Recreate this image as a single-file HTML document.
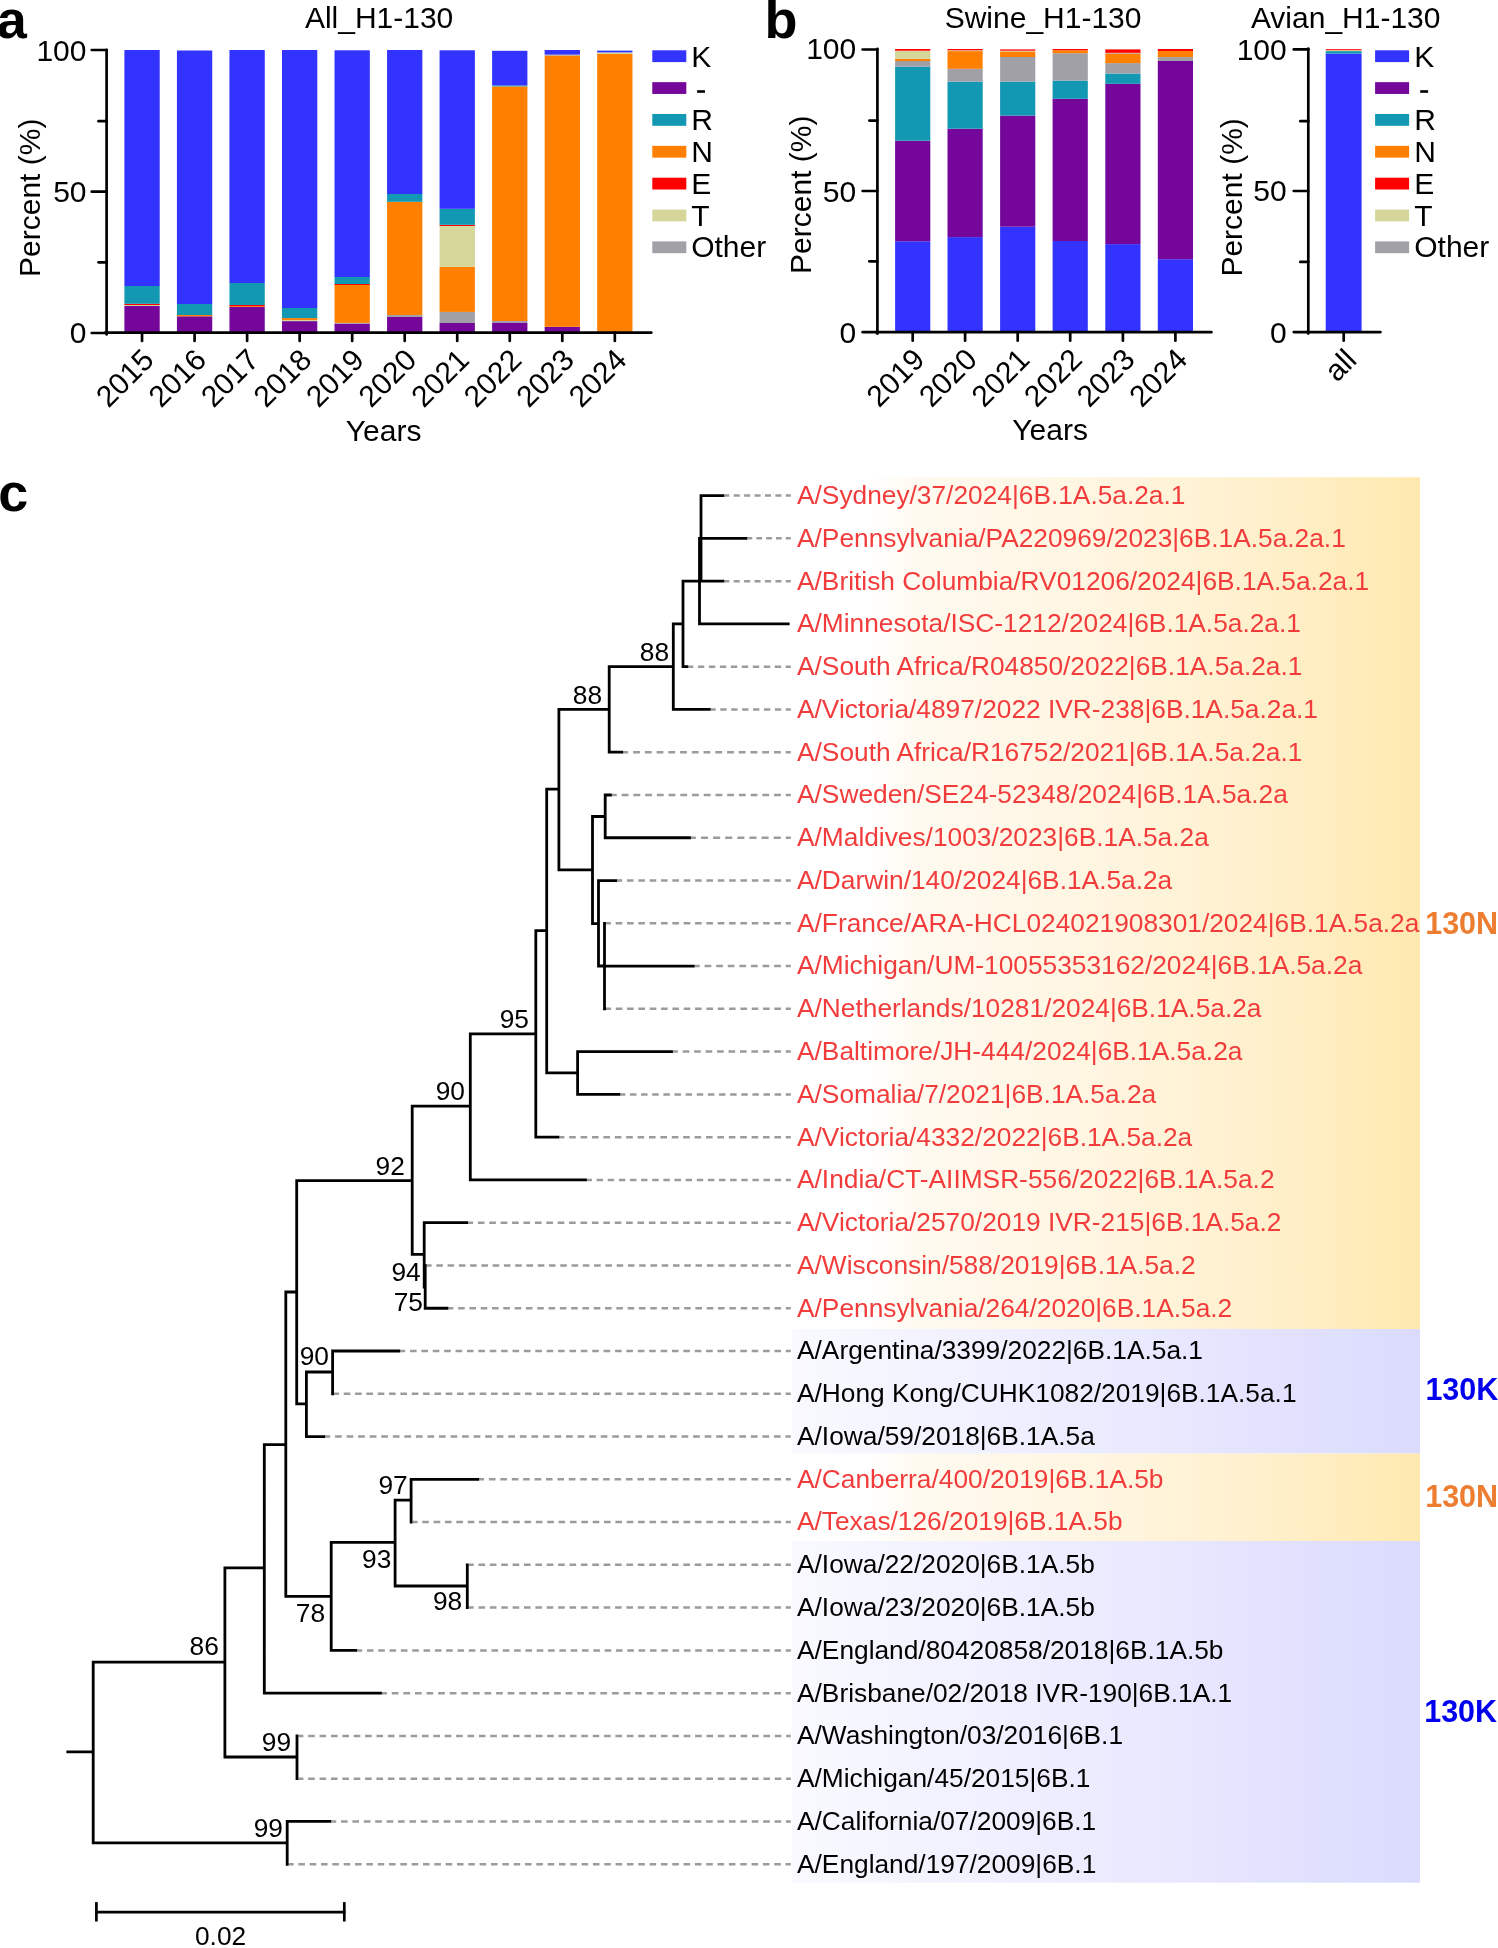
<!DOCTYPE html>
<html><head><meta charset="utf-8"><title>Figure</title>
<style>html,body{margin:0;padding:0;background:#fff;}body{width:1498px;height:1948px;overflow:hidden;font-family:"Liberation Sans", sans-serif;}svg{display:block;will-change:transform;}</style>
</head><body>
<svg width="1498" height="1948" viewBox="0 0 1498 1948" font-family='"Liberation Sans", sans-serif'><text x="-3.25" y="38.15" font-size="54" font-weight="bold" fill="#000">a</text>
<text x="304.9" y="28.2" font-size="30" fill="#000">All_H1-130</text>
<rect x="124.4" y="306" width="35.3" height="26.3" fill="#740799"/>
<rect x="124.4" y="305" width="35.3" height="1" fill="#D6D69A"/>
<rect x="124.4" y="303.8" width="35.3" height="1.2" fill="#FF0000"/>
<rect x="124.4" y="286" width="35.3" height="17.8" fill="#1298B2"/>
<rect x="124.4" y="50" width="35.3" height="236" fill="#3333FF"/>
<rect x="176.93" y="316.3" width="35.3" height="16" fill="#740799"/>
<rect x="176.93" y="315" width="35.3" height="1.3" fill="#FF7F00"/>
<rect x="176.93" y="304" width="35.3" height="11" fill="#1298B2"/>
<rect x="176.93" y="50.5" width="35.3" height="253.5" fill="#3333FF"/>
<rect x="229.46" y="307" width="35.3" height="25.3" fill="#740799"/>
<rect x="229.46" y="306.2" width="35.3" height="0.8" fill="#FF7F00"/>
<rect x="229.46" y="305" width="35.3" height="1.2" fill="#FF0000"/>
<rect x="229.46" y="283" width="35.3" height="22" fill="#1298B2"/>
<rect x="229.46" y="50" width="35.3" height="233" fill="#3333FF"/>
<rect x="281.99" y="321.1" width="35.3" height="11.2" fill="#740799"/>
<rect x="281.99" y="320" width="35.3" height="1.1" fill="#D6D69A"/>
<rect x="281.99" y="318.1" width="35.3" height="1.9" fill="#FF7F00"/>
<rect x="281.99" y="308" width="35.3" height="10.1" fill="#1298B2"/>
<rect x="281.99" y="50" width="35.3" height="258" fill="#3333FF"/>
<rect x="334.52" y="323.6" width="35.3" height="8.7" fill="#740799"/>
<rect x="334.52" y="322.9" width="35.3" height="0.7" fill="#A0A0A6"/>
<rect x="334.52" y="285" width="35.3" height="37.9" fill="#FF7F00"/>
<rect x="334.52" y="284" width="35.3" height="1" fill="#FF0000"/>
<rect x="334.52" y="277" width="35.3" height="7" fill="#1298B2"/>
<rect x="334.52" y="50.3" width="35.3" height="226.7" fill="#3333FF"/>
<rect x="387.05" y="317" width="35.3" height="15.3" fill="#740799"/>
<rect x="387.05" y="315" width="35.3" height="2" fill="#A0A0A6"/>
<rect x="387.05" y="201.8" width="35.3" height="113.2" fill="#FF7F00"/>
<rect x="387.05" y="194" width="35.3" height="7.8" fill="#1298B2"/>
<rect x="387.05" y="50" width="35.3" height="144" fill="#3333FF"/>
<rect x="439.58" y="323" width="35.3" height="9.3" fill="#740799"/>
<rect x="439.58" y="311.9" width="35.3" height="11.1" fill="#A0A0A6"/>
<rect x="439.58" y="266.9" width="35.3" height="45" fill="#FF7F00"/>
<rect x="439.58" y="226" width="35.3" height="40.9" fill="#D6D69A"/>
<rect x="439.58" y="224.8" width="35.3" height="1.2" fill="#FF0000"/>
<rect x="439.58" y="208.8" width="35.3" height="16" fill="#1298B2"/>
<rect x="439.58" y="50.3" width="35.3" height="158.5" fill="#3333FF"/>
<rect x="492.11" y="322.5" width="35.3" height="9.8" fill="#740799"/>
<rect x="492.11" y="321" width="35.3" height="1.5" fill="#A0A0A6"/>
<rect x="492.11" y="86.4" width="35.3" height="234.6" fill="#FF7F00"/>
<rect x="492.11" y="85.4" width="35.3" height="1" fill="#1298B2"/>
<rect x="492.11" y="50.8" width="35.3" height="34.6" fill="#3333FF"/>
<rect x="544.64" y="326.8" width="35.3" height="5.5" fill="#740799"/>
<rect x="544.64" y="55.5" width="35.3" height="271.3" fill="#FF7F00"/>
<rect x="544.64" y="54.6" width="35.3" height="0.9" fill="#A0A0A6"/>
<rect x="544.64" y="50" width="35.3" height="4.6" fill="#3333FF"/>
<rect x="597.17" y="54" width="35.3" height="278.3" fill="#FF7F00"/>
<rect x="597.17" y="52.4" width="35.3" height="1.6" fill="#D6D69A"/>
<rect x="597.17" y="50.6" width="35.3" height="1.8" fill="#3333FF"/>
<line x1="106.6" y1="49.85" x2="106.6" y2="334.5" stroke="#000" stroke-width="2.7" stroke-linecap="round"/>
<line x1="91.75" y1="50" x2="106.6" y2="50" stroke="#000" stroke-width="2.7" stroke-linecap="round"/>
<line x1="98.55" y1="121.2" x2="106.6" y2="121.2" stroke="#000" stroke-width="2.7" stroke-linecap="round"/>
<line x1="91.75" y1="191.7" x2="106.6" y2="191.7" stroke="#000" stroke-width="2.7" stroke-linecap="round"/>
<line x1="98.55" y1="262.3" x2="106.6" y2="262.3" stroke="#000" stroke-width="2.7" stroke-linecap="round"/>
<line x1="91.75" y1="333" x2="106.6" y2="333" stroke="#000" stroke-width="2.7" stroke-linecap="round"/>
<text x="86.5" y="61.1" font-size="30" text-anchor="end" fill="#000">100</text>
<text x="86.5" y="202.1" font-size="30" text-anchor="end" fill="#000">50</text>
<text x="86.5" y="343.4" font-size="30" text-anchor="end" fill="#000">0</text>
<line x1="105.25" y1="332.6" x2="651.35" y2="332.6" stroke="#000" stroke-width="2.7" stroke-linecap="round"/>
<line x1="142.05" y1="332.6" x2="142.05" y2="340.95" stroke="#000" stroke-width="2.7" stroke-linecap="round"/>
<text transform="translate(155.65,361.6) rotate(-45)" font-size="30" text-anchor="end">2015</text>
<line x1="194.58" y1="332.6" x2="194.58" y2="340.95" stroke="#000" stroke-width="2.7" stroke-linecap="round"/>
<text transform="translate(208.18,361.6) rotate(-45)" font-size="30" text-anchor="end">2016</text>
<line x1="247.11" y1="332.6" x2="247.11" y2="340.95" stroke="#000" stroke-width="2.7" stroke-linecap="round"/>
<text transform="translate(260.71,361.6) rotate(-45)" font-size="30" text-anchor="end">2017</text>
<line x1="299.64" y1="332.6" x2="299.64" y2="340.95" stroke="#000" stroke-width="2.7" stroke-linecap="round"/>
<text transform="translate(313.24,361.6) rotate(-45)" font-size="30" text-anchor="end">2018</text>
<line x1="352.17" y1="332.6" x2="352.17" y2="340.95" stroke="#000" stroke-width="2.7" stroke-linecap="round"/>
<text transform="translate(365.77,361.6) rotate(-45)" font-size="30" text-anchor="end">2019</text>
<line x1="404.7" y1="332.6" x2="404.7" y2="340.95" stroke="#000" stroke-width="2.7" stroke-linecap="round"/>
<text transform="translate(418.3,361.6) rotate(-45)" font-size="30" text-anchor="end">2020</text>
<line x1="457.23" y1="332.6" x2="457.23" y2="340.95" stroke="#000" stroke-width="2.7" stroke-linecap="round"/>
<text transform="translate(470.83,361.6) rotate(-45)" font-size="30" text-anchor="end">2021</text>
<line x1="509.76" y1="332.6" x2="509.76" y2="340.95" stroke="#000" stroke-width="2.7" stroke-linecap="round"/>
<text transform="translate(523.36,361.6) rotate(-45)" font-size="30" text-anchor="end">2022</text>
<line x1="562.29" y1="332.6" x2="562.29" y2="340.95" stroke="#000" stroke-width="2.7" stroke-linecap="round"/>
<text transform="translate(575.89,361.6) rotate(-45)" font-size="30" text-anchor="end">2023</text>
<line x1="614.82" y1="332.6" x2="614.82" y2="340.95" stroke="#000" stroke-width="2.7" stroke-linecap="round"/>
<text transform="translate(628.42,361.6) rotate(-45)" font-size="30" text-anchor="end">2024</text>
<text x="345.84" y="441.2" font-size="30" fill="#000">Years</text>
<text transform="translate(39.8,197.8) rotate(-90)" font-size="30" text-anchor="middle">Percent (%)</text>
<rect x="652.3" y="50.3" width="34" height="11.8" fill="#3333FF"/>
<text x="691.14" y="67" font-size="30" fill="#000">K</text>
<rect x="652.3" y="82.15" width="34" height="11.8" fill="#740799"/>
<rect x="697.1" y="90.2" width="7.9" height="2.6" fill="#000"/>
<rect x="652.3" y="114" width="34" height="11.8" fill="#1298B2"/>
<text x="691.14" y="130.44" font-size="30" fill="#000">R</text>
<rect x="652.3" y="145.85" width="34" height="11.8" fill="#FF7F00"/>
<text x="691.14" y="162.16" font-size="30" fill="#000">N</text>
<rect x="652.3" y="177.7" width="34" height="11.8" fill="#FF0000"/>
<text x="691.14" y="193.88" font-size="30" fill="#000">E</text>
<rect x="652.3" y="209.55" width="34" height="11.8" fill="#D6D69A"/>
<text x="691.14" y="225.6" font-size="30" fill="#000">T</text>
<rect x="652.3" y="241.4" width="34" height="11.8" fill="#A0A0A6"/>
<text x="691.14" y="257.32" font-size="30" fill="#000">Other</text>
<text x="764.6" y="38.1" font-size="54" font-weight="bold" fill="#000">b</text>
<text x="944.7" y="28.4" font-size="30" fill="#000">Swine_H1-130</text>
<rect x="895.1" y="241.3" width="35.2" height="90.7" fill="#3333FF"/>
<rect x="895.1" y="140.7" width="35.2" height="100.6" fill="#740799"/>
<rect x="895.1" y="66.7" width="35.2" height="74" fill="#1298B2"/>
<rect x="895.1" y="61" width="35.2" height="5.7" fill="#A0A0A6"/>
<rect x="895.1" y="58.8" width="35.2" height="2.2" fill="#FF7F00"/>
<rect x="895.1" y="50.7" width="35.2" height="8.1" fill="#D6D69A"/>
<rect x="895.1" y="49" width="35.2" height="1.7" fill="#FF0000"/>
<rect x="947.5" y="237.1" width="35.2" height="94.9" fill="#3333FF"/>
<rect x="947.5" y="128.7" width="35.2" height="108.4" fill="#740799"/>
<rect x="947.5" y="81.7" width="35.2" height="47" fill="#1298B2"/>
<rect x="947.5" y="68.8" width="35.2" height="12.9" fill="#A0A0A6"/>
<rect x="947.5" y="51.1" width="35.2" height="17.7" fill="#FF7F00"/>
<rect x="947.5" y="50.3" width="35.2" height="0.8" fill="#D6D69A"/>
<rect x="947.5" y="49" width="35.2" height="1.3" fill="#FF0000"/>
<rect x="1000.1" y="226.7" width="35.2" height="105.3" fill="#3333FF"/>
<rect x="1000.1" y="115.6" width="35.2" height="111.1" fill="#740799"/>
<rect x="1000.1" y="81.7" width="35.2" height="33.9" fill="#1298B2"/>
<rect x="1000.1" y="57" width="35.2" height="24.7" fill="#A0A0A6"/>
<rect x="1000.1" y="51.5" width="35.2" height="5.5" fill="#FF7F00"/>
<rect x="1000.1" y="50.7" width="35.2" height="0.8" fill="#D6D69A"/>
<rect x="1000.1" y="49.4" width="35.2" height="1.3" fill="#FF0000"/>
<rect x="1052.6" y="241" width="35.2" height="91" fill="#3333FF"/>
<rect x="1052.6" y="98.8" width="35.2" height="142.2" fill="#740799"/>
<rect x="1052.6" y="80.6" width="35.2" height="18.2" fill="#1298B2"/>
<rect x="1052.6" y="53.2" width="35.2" height="27.4" fill="#A0A0A6"/>
<rect x="1052.6" y="50.2" width="35.2" height="3" fill="#FF7F00"/>
<rect x="1052.6" y="49" width="35.2" height="1.2" fill="#FF0000"/>
<rect x="1105.3" y="244.1" width="35.2" height="87.9" fill="#3333FF"/>
<rect x="1105.3" y="83.8" width="35.2" height="160.3" fill="#740799"/>
<rect x="1105.3" y="73.5" width="35.2" height="10.3" fill="#1298B2"/>
<rect x="1105.3" y="63.1" width="35.2" height="10.4" fill="#A0A0A6"/>
<rect x="1105.3" y="53.5" width="35.2" height="9.6" fill="#FF7F00"/>
<rect x="1105.3" y="52.8" width="35.2" height="0.7" fill="#A0A0A6"/>
<rect x="1105.3" y="49.4" width="35.2" height="3.4" fill="#FF0000"/>
<rect x="1157.8" y="259.2" width="35.2" height="72.8" fill="#3333FF"/>
<rect x="1157.8" y="61" width="35.2" height="198.2" fill="#740799"/>
<rect x="1157.8" y="57.1" width="35.2" height="3.9" fill="#A0A0A6"/>
<rect x="1157.8" y="51.1" width="35.2" height="6" fill="#FF7F00"/>
<rect x="1157.8" y="49" width="35.2" height="2.1" fill="#FF0000"/>
<line x1="877.4" y1="48.85" x2="877.4" y2="333.7" stroke="#000" stroke-width="2.7" stroke-linecap="round"/>
<line x1="862.65" y1="49.5" x2="877.4" y2="49.5" stroke="#000" stroke-width="2.7" stroke-linecap="round"/>
<line x1="869.35" y1="120.6" x2="877.4" y2="120.6" stroke="#000" stroke-width="2.7" stroke-linecap="round"/>
<line x1="862.65" y1="191" x2="877.4" y2="191" stroke="#000" stroke-width="2.7" stroke-linecap="round"/>
<line x1="869.35" y1="261.3" x2="877.4" y2="261.3" stroke="#000" stroke-width="2.7" stroke-linecap="round"/>
<line x1="862.65" y1="332.2" x2="877.4" y2="332.2" stroke="#000" stroke-width="2.7" stroke-linecap="round"/>
<text x="856.2" y="59.4" font-size="30" text-anchor="end" fill="#000">100</text>
<text x="856.2" y="201.5" font-size="30" text-anchor="end" fill="#000">50</text>
<text x="856.2" y="342.8" font-size="30" text-anchor="end" fill="#000">0</text>
<line x1="876.05" y1="332.2" x2="1211.35" y2="332.2" stroke="#000" stroke-width="2.7" stroke-linecap="round"/>
<line x1="912.7" y1="332.2" x2="912.7" y2="340.65" stroke="#000" stroke-width="2.7" stroke-linecap="round"/>
<text transform="translate(926.3,361.3) rotate(-45)" font-size="30" text-anchor="end">2019</text>
<line x1="965.1" y1="332.2" x2="965.1" y2="340.65" stroke="#000" stroke-width="2.7" stroke-linecap="round"/>
<text transform="translate(978.7,361.3) rotate(-45)" font-size="30" text-anchor="end">2020</text>
<line x1="1017.7" y1="332.2" x2="1017.7" y2="340.65" stroke="#000" stroke-width="2.7" stroke-linecap="round"/>
<text transform="translate(1031.3,361.3) rotate(-45)" font-size="30" text-anchor="end">2021</text>
<line x1="1070.2" y1="332.2" x2="1070.2" y2="340.65" stroke="#000" stroke-width="2.7" stroke-linecap="round"/>
<text transform="translate(1083.8,361.3) rotate(-45)" font-size="30" text-anchor="end">2022</text>
<line x1="1122.9" y1="332.2" x2="1122.9" y2="340.65" stroke="#000" stroke-width="2.7" stroke-linecap="round"/>
<text transform="translate(1136.5,361.3) rotate(-45)" font-size="30" text-anchor="end">2023</text>
<line x1="1175.4" y1="332.2" x2="1175.4" y2="340.65" stroke="#000" stroke-width="2.7" stroke-linecap="round"/>
<text transform="translate(1189,361.3) rotate(-45)" font-size="30" text-anchor="end">2024</text>
<text x="1012.34" y="439.8" font-size="30" fill="#000">Years</text>
<text transform="translate(811.1,194.7) rotate(-90)" font-size="30" text-anchor="middle">Percent (%)</text>
<text x="1250.9" y="27.7" font-size="30" fill="#000">Avian_H1-130</text>
<rect x="1325.7" y="53.6" width="35.9" height="278.5" fill="#3333FF"/>
<rect x="1325.7" y="51.1" width="35.9" height="2.5" fill="#1298B2"/>
<rect x="1325.7" y="50.2" width="35.9" height="0.9" fill="#D6D69A"/>
<rect x="1325.7" y="49.2" width="35.9" height="1" fill="#FF0000"/>
<line x1="1308.3" y1="48.55" x2="1308.3" y2="333.6" stroke="#000" stroke-width="2.7" stroke-linecap="round"/>
<line x1="1293.75" y1="49.4" x2="1308.3" y2="49.4" stroke="#000" stroke-width="2.7" stroke-linecap="round"/>
<line x1="1300.35" y1="121.2" x2="1308.3" y2="121.2" stroke="#000" stroke-width="2.7" stroke-linecap="round"/>
<line x1="1293.75" y1="191" x2="1308.3" y2="191" stroke="#000" stroke-width="2.7" stroke-linecap="round"/>
<line x1="1300.35" y1="261.9" x2="1308.3" y2="261.9" stroke="#000" stroke-width="2.7" stroke-linecap="round"/>
<line x1="1293.75" y1="332.1" x2="1308.3" y2="332.1" stroke="#000" stroke-width="2.7" stroke-linecap="round"/>
<text x="1286.7" y="59.6" font-size="30" text-anchor="end" fill="#000">100</text>
<text x="1286.7" y="201.3" font-size="30" text-anchor="end" fill="#000">50</text>
<text x="1286.7" y="342.9" font-size="30" text-anchor="end" fill="#000">0</text>
<line x1="1306.95" y1="332.1" x2="1380.45" y2="332.1" stroke="#000" stroke-width="2.7" stroke-linecap="round"/>
<line x1="1343.7" y1="332.1" x2="1343.7" y2="340.65" stroke="#000" stroke-width="2.7" stroke-linecap="round"/>
<text transform="translate(1358.3,361.8) rotate(-45)" font-size="30" text-anchor="end">all</text>
<text transform="translate(1242.1,197.4) rotate(-90)" font-size="30" text-anchor="middle">Percent (%)</text>
<rect x="1375.1" y="50.3" width="34" height="11.8" fill="#3333FF"/>
<text x="1414.24" y="67" font-size="30" fill="#000">K</text>
<rect x="1375.1" y="82.15" width="34" height="11.8" fill="#740799"/>
<rect x="1420.2" y="90.2" width="7.9" height="2.6" fill="#000"/>
<rect x="1375.1" y="114" width="34" height="11.8" fill="#1298B2"/>
<text x="1414.24" y="130.44" font-size="30" fill="#000">R</text>
<rect x="1375.1" y="145.85" width="34" height="11.8" fill="#FF7F00"/>
<text x="1414.24" y="162.16" font-size="30" fill="#000">N</text>
<rect x="1375.1" y="177.7" width="34" height="11.8" fill="#FF0000"/>
<text x="1414.24" y="193.88" font-size="30" fill="#000">E</text>
<rect x="1375.1" y="209.55" width="34" height="11.8" fill="#D6D69A"/>
<text x="1414.24" y="225.6" font-size="30" fill="#000">T</text>
<rect x="1375.1" y="241.4" width="34" height="11.8" fill="#A0A0A6"/>
<text x="1414.24" y="257.32" font-size="30" fill="#000">Other</text>
<text x="-1.8" y="510.5" font-size="54" font-weight="bold" fill="#000">c</text>
<defs><linearGradient id="go" x1="0" x2="1" y1="0" y2="0"><stop offset="0" stop-color="#FFFFFF"/><stop offset="0.12" stop-color="#FFFFFF"/><stop offset="0.2" stop-color="#FFFAF0"/><stop offset="0.5" stop-color="#FFF5E0"/><stop offset="0.75" stop-color="#FFF0CC"/><stop offset="1" stop-color="#FFE9AF"/></linearGradient><linearGradient id="gb" x1="0" x2="1" y1="0" y2="0"><stop offset="0" stop-color="#F9F9FF"/><stop offset="0.5" stop-color="#EBEBFF"/><stop offset="1" stop-color="#DBDBFE"/></linearGradient></defs>
<rect x="792.4" y="477.2" width="627.6" height="851.8" fill="url(#go)"/>
<rect x="792.4" y="1329" width="627.6" height="124.6" fill="url(#gb)"/>
<rect x="792.4" y="1453.6" width="627.6" height="87.4" fill="url(#go)"/>
<rect x="792.4" y="1541" width="627.6" height="341.7" fill="url(#gb)"/>
<text x="797" y="504" font-size="26.3" fill="#F23C3C">A/Sydney/37/2024|6B.1A.5a.2a.1</text>
<text x="797" y="546.77" font-size="26.3" fill="#F23C3C">A/Pennsylvania/PA220969/2023|6B.1A.5a.2a.1</text>
<text x="797" y="589.54" font-size="26.3" fill="#F23C3C">A/British Columbia/RV01206/2024|6B.1A.5a.2a.1</text>
<text x="797" y="632.31" font-size="26.3" fill="#F23C3C">A/Minnesota/ISC-1212/2024|6B.1A.5a.2a.1</text>
<text x="797" y="675.08" font-size="26.3" fill="#F23C3C">A/South Africa/R04850/2022|6B.1A.5a.2a.1</text>
<text x="797" y="717.85" font-size="26.3" fill="#F23C3C">A/Victoria/4897/2022 IVR-238|6B.1A.5a.2a.1</text>
<text x="797" y="760.62" font-size="26.3" fill="#F23C3C">A/South Africa/R16752/2021|6B.1A.5a.2a.1</text>
<text x="797" y="803.39" font-size="26.3" fill="#F23C3C">A/Sweden/SE24-52348/2024|6B.1A.5a.2a</text>
<text x="797" y="846.16" font-size="26.3" fill="#F23C3C">A/Maldives/1003/2023|6B.1A.5a.2a</text>
<text x="797" y="888.93" font-size="26.3" fill="#F23C3C">A/Darwin/140/2024|6B.1A.5a.2a</text>
<text x="797" y="931.7" font-size="26.3" fill="#F23C3C">A/France/ARA-HCL024021908301/2024|6B.1A.5a.2a</text>
<text x="797" y="974.47" font-size="26.3" fill="#F23C3C">A/Michigan/UM-10055353162/2024|6B.1A.5a.2a</text>
<text x="797" y="1017.24" font-size="26.3" fill="#F23C3C">A/Netherlands/10281/2024|6B.1A.5a.2a</text>
<text x="797" y="1060.01" font-size="26.3" fill="#F23C3C">A/Baltimore/JH-444/2024|6B.1A.5a.2a</text>
<text x="797" y="1102.78" font-size="26.3" fill="#F23C3C">A/Somalia/7/2021|6B.1A.5a.2a</text>
<text x="797" y="1145.55" font-size="26.3" fill="#F23C3C">A/Victoria/4332/2022|6B.1A.5a.2a</text>
<text x="797" y="1188.32" font-size="26.3" fill="#F23C3C">A/India/CT-AIIMSR-556/2022|6B.1A.5a.2</text>
<text x="797" y="1231.09" font-size="26.3" fill="#F23C3C">A/Victoria/2570/2019 IVR-215|6B.1A.5a.2</text>
<text x="797" y="1273.86" font-size="26.3" fill="#F23C3C">A/Wisconsin/588/2019|6B.1A.5a.2</text>
<text x="797" y="1316.63" font-size="26.3" fill="#F23C3C">A/Pennsylvania/264/2020|6B.1A.5a.2</text>
<text x="797" y="1359.4" font-size="26.3" fill="#000">A/Argentina/3399/2022|6B.1A.5a.1</text>
<text x="797" y="1402.17" font-size="26.3" fill="#000">A/Hong Kong/CUHK1082/2019|6B.1A.5a.1</text>
<text x="797" y="1444.94" font-size="26.3" fill="#000">A/Iowa/59/2018|6B.1A.5a</text>
<text x="797" y="1487.71" font-size="26.3" fill="#F23C3C">A/Canberra/400/2019|6B.1A.5b</text>
<text x="797" y="1530.48" font-size="26.3" fill="#F23C3C">A/Texas/126/2019|6B.1A.5b</text>
<text x="797" y="1573.25" font-size="26.3" fill="#000">A/Iowa/22/2020|6B.1A.5b</text>
<text x="797" y="1616.02" font-size="26.3" fill="#000">A/Iowa/23/2020|6B.1A.5b</text>
<text x="797" y="1658.79" font-size="26.3" fill="#000">A/England/80420858/2018|6B.1A.5b</text>
<text x="797" y="1701.56" font-size="26.3" fill="#000">A/Brisbane/02/2018 IVR-190|6B.1A.1</text>
<text x="797" y="1744.33" font-size="26.3" fill="#000">A/Washington/03/2016|6B.1</text>
<text x="797" y="1787.1" font-size="26.3" fill="#000">A/Michigan/45/2015|6B.1</text>
<text x="797" y="1829.87" font-size="26.3" fill="#000">A/California/07/2009|6B.1</text>
<text x="797" y="1872.64" font-size="26.3" fill="#000">A/England/197/2009|6B.1</text>
<path d="M724.3 495.6H790.8" stroke="#9B9B9B" stroke-width="2.5" stroke-dasharray="6.05 4.38" stroke-dashoffset="1.05" fill="none"/>
<path d="M747.3 538.37H790.8" stroke="#9B9B9B" stroke-width="2.5" stroke-dasharray="5.68 4.11" stroke-dashoffset="0.68" fill="none"/>
<path d="M724.3 581.14H790.8" stroke="#9B9B9B" stroke-width="2.5" stroke-dasharray="6.05 4.38" stroke-dashoffset="1.05" fill="none"/>
<path d="M688.3 666.68H790.8" stroke="#9B9B9B" stroke-width="2.5" stroke-dasharray="6.37 4.61" stroke-dashoffset="1.37" fill="none"/>
<path d="M710.7 709.45H790.8" stroke="#9B9B9B" stroke-width="2.5" stroke-dasharray="6.33 4.59" stroke-dashoffset="1.33" fill="none"/>
<path d="M623.2 752.22H790.8" stroke="#9B9B9B" stroke-width="2.5" stroke-dasharray="6.81 4.93" stroke-dashoffset="1.81" fill="none"/>
<path d="M611.8 794.99H790.8" stroke="#9B9B9B" stroke-width="2.5" stroke-dasharray="6.8 4.92" stroke-dashoffset="1.8" fill="none"/>
<path d="M690.9 837.76H790.8" stroke="#9B9B9B" stroke-width="2.5" stroke-dasharray="7.03 5.09" stroke-dashoffset="2.03" fill="none"/>
<path d="M605.9 923.3H790.8" stroke="#9B9B9B" stroke-width="2.5" stroke-dasharray="6.58 4.76" stroke-dashoffset="1.58" fill="none"/>
<path d="M694.7 966.07H790.8" stroke="#9B9B9B" stroke-width="2.5" stroke-dasharray="6.73 4.87" stroke-dashoffset="1.73" fill="none"/>
<path d="M606 1008.84H790.8" stroke="#9B9B9B" stroke-width="2.5" stroke-dasharray="6.57 4.76" stroke-dashoffset="1.57" fill="none"/>
<path d="M617.2 880.53H790.8" stroke="#9B9B9B" stroke-width="2.5" stroke-dasharray="6.58 4.77" stroke-dashoffset="1.58" fill="none"/>
<path d="M672.9 1051.61H790.8" stroke="#9B9B9B" stroke-width="2.5" stroke-dasharray="6.64 4.81" stroke-dashoffset="1.64" fill="none"/>
<path d="M620.3 1094.38H790.8" stroke="#9B9B9B" stroke-width="2.5" stroke-dasharray="6.46 4.67" stroke-dashoffset="1.46" fill="none"/>
<path d="M559.4 1137.15H790.8" stroke="#9B9B9B" stroke-width="2.5" stroke-dasharray="6.61 4.79" stroke-dashoffset="1.61" fill="none"/>
<path d="M586.9 1179.92H790.8" stroke="#9B9B9B" stroke-width="2.5" stroke-dasharray="6.46 4.67" stroke-dashoffset="1.46" fill="none"/>
<path d="M426.6 1265.46H790.8" stroke="#9B9B9B" stroke-width="2.5" stroke-dasharray="6.54 4.73" stroke-dashoffset="1.54" fill="none"/>
<path d="M448.4 1308.23H790.8" stroke="#9B9B9B" stroke-width="2.5" stroke-dasharray="6.55 4.75" stroke-dashoffset="1.55" fill="none"/>
<path d="M468.1 1222.69H790.8" stroke="#9B9B9B" stroke-width="2.5" stroke-dasharray="6.61 4.79" stroke-dashoffset="1.61" fill="none"/>
<path d="M400.2 1351H790.8" stroke="#9B9B9B" stroke-width="2.5" stroke-dasharray="6.61 4.78" stroke-dashoffset="1.61" fill="none"/>
<path d="M334 1393.77H790.8" stroke="#9B9B9B" stroke-width="2.5" stroke-dasharray="6.57 4.76" stroke-dashoffset="1.57" fill="none"/>
<path d="M325.2 1436.54H790.8" stroke="#9B9B9B" stroke-width="2.5" stroke-dasharray="6.7 4.85" stroke-dashoffset="1.7" fill="none"/>
<path d="M479.1 1479.31H790.8" stroke="#9B9B9B" stroke-width="2.5" stroke-dasharray="6.62 4.8" stroke-dashoffset="1.62" fill="none"/>
<path d="M412.5 1522.08H790.8" stroke="#9B9B9B" stroke-width="2.5" stroke-dasharray="6.59 4.77" stroke-dashoffset="1.59" fill="none"/>
<path d="M468.7 1564.85H790.8" stroke="#9B9B9B" stroke-width="2.5" stroke-dasharray="6.6 4.78" stroke-dashoffset="1.6" fill="none"/>
<path d="M468.7 1607.62H790.8" stroke="#9B9B9B" stroke-width="2.5" stroke-dasharray="6.6 4.78" stroke-dashoffset="1.6" fill="none"/>
<path d="M357.2 1650.39H790.8" stroke="#9B9B9B" stroke-width="2.5" stroke-dasharray="6.57 4.75" stroke-dashoffset="1.57" fill="none"/>
<path d="M381.9 1693.16H790.8" stroke="#9B9B9B" stroke-width="2.5" stroke-dasharray="6.72 4.87" stroke-dashoffset="1.72" fill="none"/>
<path d="M298.4 1735.93H790.8" stroke="#9B9B9B" stroke-width="2.5" stroke-dasharray="6.6 4.78" stroke-dashoffset="1.6" fill="none"/>
<path d="M298.4 1778.7H790.8" stroke="#9B9B9B" stroke-width="2.5" stroke-dasharray="6.6 4.78" stroke-dashoffset="1.6" fill="none"/>
<path d="M331.2 1821.47H790.8" stroke="#9B9B9B" stroke-width="2.5" stroke-dasharray="6.62 4.79" stroke-dashoffset="1.62" fill="none"/>
<path d="M288.6 1864.24H790.8" stroke="#9B9B9B" stroke-width="2.5" stroke-dasharray="6.57 4.76" stroke-dashoffset="1.57" fill="none"/>
<path d="M701 494.2V582.54M699.6 495.6H724.3M699.6 538.37H747.3M699.6 581.14H724.3M699.5 537V625.31M698.1 538.4H702.4M698.1 623.91H789.6M683 579.8V668.08M681.6 581.2H700.9M681.6 666.68H688.3M673.3 622.4V710.85M671.9 623.8H684.4M671.9 709.45H710.7M609.2 665.3V753.62M607.8 666.7H674.7M607.8 752.22H623.2M605.2 793.59V839.16M603.8 794.99H611.8M603.8 837.76H690.9M604.5 921.9V1010.24M603.1 923.3H605.9M603.1 966.07H694.7M603.1 1008.84H606M598.5 879.13V967.4M597.1 880.53H617.2M597.1 966H605.9M592.5 815.1V925M591.1 816.5H606.6M591.1 923.6H599.9M558.9 707.9V871.2M557.5 709.3H610.6M557.5 869.8H593.9M577.6 1050.21V1095.78M576.2 1051.61H672.9M576.2 1094.38H620.3M546.7 787.8V1074.2M545.3 789.2H560.3M545.3 1072.8H579M535.8 929.2V1138.55M534.4 930.6H548.1M534.4 1137.15H559.4M470.3 1032.5V1181.32M468.9 1033.9H537.2M468.9 1179.92H586.9M425.2 1264.06V1309.63M423.8 1265.46H426.6M423.8 1308.23H448.4M424.2 1221.29V1288.4M422.8 1222.69H468.1M422.8 1287H426.6M412.2 1104.8V1255.8M410.8 1106.2H471.7M410.8 1254.4H425.6M332.6 1349.6V1395.17M331.2 1351H400.2M331.2 1393.77H334M306.4 1370.6V1437.94M305 1372H334M305 1436.54H325.2M296.7 1179.3V1405.3M295.3 1180.7H413.6M295.3 1403.9H307.8M411.1 1477.91V1523.48M409.7 1479.31H479.1M409.7 1522.08H412.5M467.3 1563.45V1609.02M465.9 1564.85H468.7M465.9 1607.62H468.7M395.1 1498.8V1587.4M393.7 1500.2H412.5M393.7 1586H468.7M331.2 1541V1651.79M329.8 1542.4H396.5M329.8 1650.39H357.2M285.8 1290.6V1597.8M284.4 1292H298.1M284.4 1596.4H332.6M264.3 1443.2V1694.56M262.9 1444.6H287.2M262.9 1693.16H381.9M297 1734.53V1780.1M295.6 1735.93H298.4M295.6 1778.7H298.4M224.9 1566.5V1758.4M223.5 1567.9H265.7M223.5 1757H298.4M287.2 1820.07V1865.64M285.8 1821.47H331.2M285.8 1864.24H288.6M93.2 1660.8V1844.2M91.8 1662.2H226.3M91.8 1842.8H288.6M66.4 1751.8H93.2" stroke="#000" stroke-width="2.8" fill="none"/>
<text x="639.87" y="660.5" font-size="26.3" fill="#000">88</text>
<text x="572.87" y="703.6" font-size="26.3" fill="#000">88</text>
<text x="499.66" y="1028" font-size="26.3" fill="#000">95</text>
<text x="435.66" y="1100.1" font-size="26.3" fill="#000">90</text>
<text x="375.56" y="1175.1" font-size="26.3" fill="#000">92</text>
<text x="391.46" y="1280.5" font-size="26.3" fill="#000">94</text>
<text x="393.66" y="1311.3" font-size="26.3" fill="#000">75</text>
<text x="299.66" y="1365.3" font-size="26.3" fill="#000">90</text>
<text x="378.46" y="1493.7" font-size="26.3" fill="#000">97</text>
<text x="362.06" y="1567.8" font-size="26.3" fill="#000">93</text>
<text x="432.96" y="1610.1" font-size="26.3" fill="#000">98</text>
<text x="295.76" y="1621.9" font-size="26.3" fill="#000">78</text>
<text x="189.57" y="1655" font-size="26.3" fill="#000">86</text>
<text x="261.86" y="1751" font-size="26.3" fill="#000">99</text>
<text x="253.66" y="1837.4" font-size="26.3" fill="#000">99</text>
<line x1="95.1" y1="1912.2" x2="345.6" y2="1912.2" stroke="#000" stroke-width="2.7"/>
<line x1="96.4" y1="1902.1" x2="96.4" y2="1921.5" stroke="#000" stroke-width="2.7"/>
<line x1="344.3" y1="1902.1" x2="344.3" y2="1921.5" stroke="#000" stroke-width="2.7"/>
<text x="194.97" y="1944.9" font-size="26.3" fill="#000">0.02</text>
<text x="1425.2" y="934" font-size="30.5" font-weight="bold" fill="#ED7D31">130N</text>
<text x="1425.4" y="1400.1" font-size="30.5" font-weight="bold" fill="#0000EE">130K</text>
<text x="1425.2" y="1507" font-size="30.5" font-weight="bold" fill="#ED7D31">130N</text>
<text x="1424.2" y="1722.2" font-size="30.5" font-weight="bold" fill="#0000EE">130K</text></svg>
</body></html>
